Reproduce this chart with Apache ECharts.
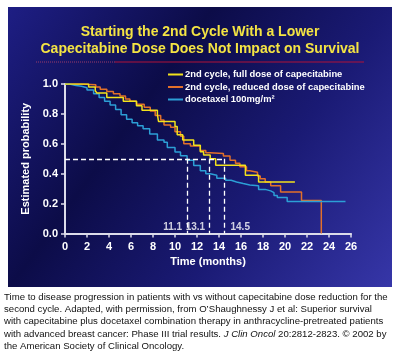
<!DOCTYPE html>
<html>
<head>
<meta charset="utf-8">
<script src="https://cdn.jsdelivr.net/npm/echarts@6/dist/echarts.min.js"></script>
<style>
html,body{margin:0;padding:0;background:#ffffff;}
#chart{width:400px;height:357px;}
</style>
</head>
<body>
<div id="chart"></div>
<script>
var seriesNames = ['2nd cycle, full dose of capecitabine', '2nd cycle, reduced dose of capecitabine', 'docetaxel 100mg/m\u00B2'];

var fullDose = [[0,1],[2.15,0.98],[2.75,0.955],[2.9,0.94],[3.8,0.91],[5.3,0.885],[6.5,0.855],[7.0,0.825],[8.4,0.795],[8.5,0.75],[10.0,0.716],[10.2,0.66],[10.7,0.626],[11.7,0.59],[12.3,0.547],[12.6,0.525],[13.2,0.5],[13.7,0.457],[16.4,0.39],[17.6,0.345],[20.9,0.345]];

var reducedDose = [[0,1],[1.5,0.995],[2.8,0.98],[3.2,0.965],[3.8,0.95],[4.4,0.935],[5.0,0.92],[5.5,0.9],[5.9,0.885],[6.5,0.865],[7.2,0.845],[7.75,0.82],[8.2,0.79],[8.7,0.76],[9.0,0.725],[9.6,0.71],[10.0,0.68],[10.5,0.65],[10.8,0.6],[11.4,0.585],[12.3,0.555],[12.8,0.54],[13.2,0.535],[14.4,0.518],[15.0,0.49],[15.5,0.47],[15.9,0.446],[16.5,0.42],[16.8,0.41],[17.5,0.385],[17.75,0.367],[18.2,0.345],[18.7,0.32],[19.6,0.277],[21.5,0.22],[23.3,0.22],[23.3,0]];

var docetaxel = [[0,1],[0.4,0.99],[1.0,0.985],[1.5,0.975],[2.0,0.96],[2.6,0.935],[3.1,0.91],[3.6,0.885],[4.1,0.86],[4.6,0.83],[5.1,0.795],[5.6,0.765],[6.1,0.74],[6.6,0.72],[7.1,0.70],[7.7,0.665],[8.4,0.625],[9.0,0.61],[9.3,0.575],[10.0,0.545],[10.5,0.52],[11.1,0.49],[11.7,0.455],[12.3,0.42],[12.8,0.40],[13.2,0.39],[13.8,0.37],[14.6,0.356],[15.1,0.345],[15.6,0.334],[16.2,0.325],[16.8,0.32],[17.6,0.295],[18.2,0.285],[18.7,0.273],[19.0,0.255],[19.3,0.24],[20.2,0.214],[25.5,0.214]];

var medians = [11.1, 13.1, 14.5];
var medianLabels = ['11.1', '13.1', '14.5'];
var medianProb = 0.5;

var xTicks = [0,2,4,6,8,10,12,14,16,18,20,22,24,26];
var yTicks = [0.0,0.2,0.4,0.6,0.8,1.0];

var titleLines = ['Starting the 2nd Cycle With a Lower', 'Capecitabine Dose Does Not Impact on Survival'];
var captionLines = [
  'Time to disease progression in patients with vs without capecitabine dose reduction for the',
  'second cycle. Adapted, with permission, from O\u2019Shaughnessy J et al: Superior survival',
  'with capecitabine plus docetaxel combination therapy in anthracycline-pretreated patients',
  'with advanced breast cancer: Phase III trial results. {i|J Clin Oncol} 20:2812-2823. \u00A9 2002 by',
  'the American Society of Clinical Oncology.'
];

var colors = ['#f2e21c', '#e2702a', '#2c9fd6'];

var chart = echarts.init(document.getElementById('chart'), null, {renderer: 'canvas'});

var dashLines = [[{coord:[0, medianProb]}, {coord:[medians[2], medianProb]}]];
medians.forEach(function (m) { dashLines.push([{coord:[m, medianProb]}, {coord:[m, 0]}]); });

var medianLabelData = [
  {value:[medians[0], 0.045], label:{position:'left', distance:5}},
  {value:[medians[1], 0.045], label:{position:'left', distance:4}},
  {value:[medians[2], 0.045], label:{position:'right', distance:6}}
];
medianLabelData.forEach(function (d, i) { d.name = medianLabels[i]; });

var font = 'Liberation Sans, Arial, sans-serif';

var option = {
  animation: false,
  backgroundColor: '#ffffff',
  graphic: [
    {
      type: 'rect', z: -10, silent: true,
      shape: {x: 8, y: 7, width: 384, height: 280},
      style: {
        fill: new echarts.graphic.LinearGradient(0, 0, 1, 1, [
          {offset: 0, color: '#1e1e84'},
          {offset: 0.35, color: '#0c0c48'},
          {offset: 0.65, color: '#1a1a74'},
          {offset: 1, color: '#3636a8'}
        ])
      }
    },
    {
      type: 'line', z: -5, silent: true,
      shape: {x1: 36, y1: 62, x2: 115, y2: 62},
      style: {stroke: '#9a3a6a', lineWidth: 1, lineDash: [1, 1]}
    },
    {
      type: 'line', z: -5, silent: true,
      shape: {x1: 115, y1: 62, x2: 364, y2: 62},
      style: {stroke: '#b01238', lineWidth: 1}
    },
    {
      type: 'text', z: 5, silent: true,
      left: 4, top: 291,
      style: {
        text: captionLines.join('\n'),
        font: '9.6px ' + font,
        fill: '#111111',
        lineHeight: 12.3,
        rich: {
          i: {fontStyle: 'italic', fontSize: 9.6, fontFamily: font, fill: '#111111', lineHeight: 12.3}
        }
      }
    }
  ],
  title: {
    text: titleLines.join('\n'),
    left: 'center',
    top: 19,
    textStyle: {
      color: '#f4e443',
      fontSize: 14,
      fontWeight: 'bold',
      fontFamily: font,
      lineHeight: 17
    }
  },
  legend: {
    orient: 'vertical',
    left: 163,
    top: 65,
    itemGap: 3.5,
    itemWidth: 15,
    itemHeight: 2,
    icon: 'rect',
    textStyle: {color: '#ffffff', fontSize: 9.4, fontWeight: 'bold', fontFamily: font, padding: [0,0,0,-3]},
    data: seriesNames
  },
  grid: {left: 65, top: 84, width: 286, height: 149.5},
  xAxis: {
    type: 'value', min: 0, max: 26, interval: 2,
    name: 'Time (months)', nameLocation: 'middle', nameGap: 23,
    nameTextStyle: {color: '#ffffff', fontSize: 11, fontWeight: 'bold', fontFamily: font},
    axisLine: {lineStyle: {color: '#dcdcea', width: 2}},
    axisTick: {show: true, length: 4, lineStyle: {color: '#dcdcea', width: 1.5}},
    axisLabel: {color: '#ffffff', fontSize: 11, fontWeight: 'bold', fontFamily: font, margin: 8,
      formatter: function (v) { return xTicks.indexOf(v) >= 0 ? String(v) : ''; }},
    splitLine: {show: false}
  },
  yAxis: {
    type: 'value', min: 0, max: 1, interval: 0.2,
    name: 'Estimated probability', nameLocation: 'middle', nameGap: 30,
    nameTextStyle: {color: '#ffffff', fontSize: 11, fontWeight: 'bold', fontFamily: font},
    axisLine: {show: true, lineStyle: {color: '#dcdcea', width: 2}},
    axisTick: {show: true, length: 4, lineStyle: {color: '#dcdcea', width: 1.5}},
    axisLabel: {color: '#ffffff', fontSize: 11, fontWeight: 'bold', fontFamily: font, margin: 7,
      formatter: function (v) { return v.toFixed(1); }},
    splitLine: {show: false}
  },
  series: [
    {
      name: seriesNames[0], type: 'line', step: 'end', data: fullDose,
      symbol: 'none', lineStyle: {color: colors[0], width: 1.5}, itemStyle: {color: colors[0]}, z: 4
    },
    {
      name: seriesNames[1], type: 'line', step: 'end', data: reducedDose,
      symbol: 'none', lineStyle: {color: colors[1], width: 1.5}, itemStyle: {color: colors[1]}, z: 3
    },
    {
      name: seriesNames[2], type: 'line', step: 'end', data: docetaxel,
      symbol: 'none', lineStyle: {color: colors[2], width: 1.5}, itemStyle: {color: colors[2]}, z: 3
    },
    {
      type: 'scatter', data: medianLabelData, symbolSize: 0, silent: true, z: 5,
      label: {show: true, color: '#ffffff', fontSize: 10, fontWeight: 'bold', fontFamily: font,
        formatter: function (p) { return p.name; }},
      markLine: {
        silent: true, symbol: 'none',
        lineStyle: {color: '#ffffff', type: [5, 3], width: 1.3},
        label: {show: false},
        data: dashLines
      }
    }
  ]
};
chart.setOption(option);
</script>
</body>
</html>
